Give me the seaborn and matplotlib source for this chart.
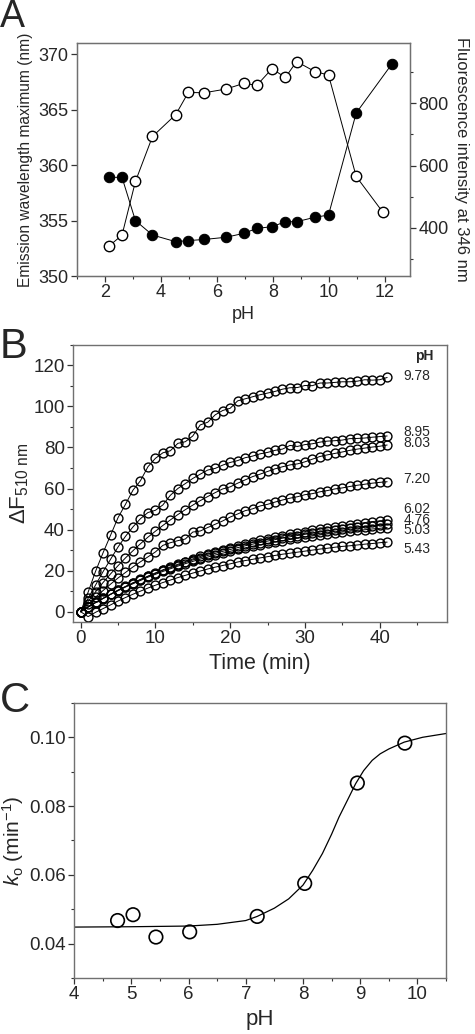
import numpy as np
import pandas as pd
import matplotlib
matplotlib.use('Agg')
import matplotlib.pyplot as plt
import seaborn as sns
from matplotlib.ticker import MultipleLocator, FormatStrFormatter

### three-panel figure: pH dependence of emission / labelling kinetics

# panel A: emission maximum (filled) and intensity (open) vs pH
ph_a      = [2.13, 2.61, 3.09, 3.70, 4.53, 4.98, 5.55, 6.33, 6.96, 7.43, 7.97, 8.45, 8.85, 9.50, 9.99, 10.98]
ph_a_fill = ph_a + [12.25]
ph_a_open = ph_a + [11.92]
em_max    = [358.9, 358.9, 355.0, 353.7, 353.1, 353.2, 353.3, 353.5, 353.85, 354.3, 354.45,
             354.9, 354.9, 355.3, 355.5, 364.7, 369.1]
intensity = [341, 377, 549, 693, 763, 834, 833, 845, 863, 857, 910, 882, 933, 901, 890, 565, 452]

# panel B: fluorescence change vs time, one series per pH
time_min = list(range(42))
df_ph78 = [0, 9.5, 19.7, 28.7, 37.2, 45.8, 52.3, 59.2, 63.8, 70.6, 74.7, 77.4, 78.4, 82.0, 82.8,
           85.6, 91.0, 92.3, 95.9, 98.0, 99.1, 102.7, 103.7, 104.7, 105.7, 106.5, 107.3, 108.4,
           109.1, 109.2, 110.2, 110.1, 111.4, 111.4, 111.7, 112.0, 112.0, 112.3, 113.0, 112.8,
           113.0, 114.1]
df_ph895 = [0, 6.5, 13.0, 19.5, 25.5, 31.5, 36.7, 41.3, 45.3, 48.3, 49.4, 52.0, 56.7, 60.0, 62.4,
            64.9, 67.0, 69.0, 69.8, 71.4, 72.7, 73.6, 75.0, 75.8, 76.9, 77.6, 78.6, 79.2, 81.0,
            80.5, 81.4, 81.8, 82.6, 83.1, 83.3, 83.6, 84.3, 84.4, 84.6, 85.0, 85.3, 85.6]
df_ph803 = [0, 5.0, 9.7, 14.2, 18.4, 22.4, 26.2, 29.7, 33.1, 36.3, 39.2, 42.0, 44.7, 47.3, 49.7,
            51.9, 54.1, 56.1, 58.0, 59.8, 60.8, 62.6, 64.2, 65.8, 67.0, 68.3, 69.6, 70.6, 71.5,
            72.0, 73.0, 74.3, 75.6, 76.4, 77.1, 77.8, 78.6, 79.2, 79.7, 80.2, 80.6, 81.2]
df_ph720 = [0, 3.6, 7.1, 10.3, 13.4, 16.4, 19.1, 21.8, 24.3, 26.7, 29.1, 32.3, 33.6, 34.6, 35.4,
            38.8, 39.3, 41.0, 42.6, 44.2, 46.1, 47.6, 49.2, 50.1, 51.5, 52.3, 53.4, 54.4, 55.3,
            56.0, 57.0, 57.5, 58.4, 59.0, 59.8, 60.3, 61.0, 61.6, 62.1, 62.6, 63.0, 63.3]
df_ph602 = [0, 2.3, 4.5, 6.5, 8.5, 10.5, 12.3, 14.1, 15.7, 17.3, 18.9, 20.4, 21.8, 23.1, 24.4,
            25.7, 26.9, 28.0, 29.1, 30.1, 31.1, 32.1, 33.0, 33.9, 34.7, 35.5, 36.3, 37.0, 37.7,
            38.4, 39.0, 39.7, 40.2, 40.8, 41.4, 41.9, 42.4, 42.9, 43.4, 43.9, 44.2, 44.6]
df_ph476 = [0, 2.3, 4.5, 6.5, 8.5, 10.4, 12.2, 13.9, 15.6, 17.2, 18.6, 20.1, 21.4, 22.7, 24.0,
            25.2, 26.3, 27.4, 28.4, 29.4, 30.3, 31.2, 32.1, 32.9, 33.7, 34.4, 35.1, 35.8, 36.5,
            37.1, 37.7, 38.2, 38.8, 39.3, 39.8, 40.2, 40.7, 41.1, 41.5, 41.9, 42.3, 42.6]
df_ph503 = [0, 2.2, 4.4, 6.4, 8.4, 10.2, 12.0, 13.6, 15.2, 16.8, 18.2, 19.6, 20.9, 22.2, 23.4,
            24.5, 25.6, 26.6, 27.6, 28.5, 29.4, 30.3, 31.1, 31.9, 32.6, 33.3, 34.0, 34.6, 35.2,
            35.8, 36.4, 36.9, 37.4, 37.9, 38.3, 38.8, 39.2, 39.6, 39.9, 40.3, 40.6, 41.0]
df_ph543 = [0, -2.4, -0.3, 1.5, 3.3, 5.2, 6.9, 8.5, 10.0, 11.5, 12.9, 14.2, 15.4, 16.6, 17.7,
            18.8, 19.8, 20.8, 21.7, 22.5, 23.3, 24.2, 24.9, 25.5, 26.2, 26.8, 27.4, 28.0, 28.5,
            29.0, 29.5, 30.0, 30.5, 30.9, 31.4, 31.8, 32.1, 32.5, 32.9, 33.2, 33.6, 33.9]
series_b = {'9.78': df_ph78, '8.95': df_ph895, '8.03': df_ph803, '7.20': df_ph720,
            '6.02': df_ph602, '4.76': df_ph476, '5.03': df_ph503, '5.43': df_ph543}
# curve labels at the right edge; tightly stacked ones share one text block
label_groups = [(['9.78'], 114.6), (['8.95', '8.03'], 85.0), (['7.20'], 64.4),
                (['6.02', '4.76', '5.03'], 44.9), (['5.43'], 30.7)]

# panel C: observed rate constant vs pH, with fitted curve
ph_c     = [4.76, 5.03, 5.43, 6.02, 7.20, 8.03, 8.95, 9.78]
k_obs    = [0.0467, 0.0484, 0.0419, 0.0434, 0.0479, 0.0575, 0.0867, 0.0983]
ph_fit   = [4, 5, 6, 6.5, 7, 7.2, 7.5, 7.75, 8.0, 8.17, 8.34, 8.5, 8.63, 8.78, 8.92, 9.06,
            9.21, 9.35, 9.5, 9.77, 10.09, 10.5]
k_fit    = [0.0448, 0.0449, 0.0451, 0.0456, 0.0467, 0.0479, 0.0503, 0.0530, 0.0570, 0.0613,
            0.0662, 0.0718, 0.0768, 0.0818, 0.0865, 0.0903, 0.0933, 0.0952, 0.0966, 0.0986,
            0.1000, 0.1011]

sns.set_style("ticks")
plt.rcParams['font.family'] = ['Liberation Sans', 'DejaVu Sans']
plt.rcParams['mathtext.fontset'] = 'custom'
plt.rcParams['mathtext.rm'] = 'Liberation Sans'
plt.rcParams['mathtext.it'] = 'Liberation Sans:italic'
spine_col = '#707070'

fig = plt.figure(figsize=(4.75, 10.34), dpi=100)
ax_a = fig.add_axes([0.162, 0.733, 0.701, 0.2253])
ax_b = fig.add_axes([0.154, 0.3985, 0.787, 0.268])
ax_c = fig.add_axes([0.156, 0.0542, 0.783, 0.266])


def style_axes(ax, fs):
    for sp in ax.spines.values():
        sp.set_visible(True)
        sp.set_color(spine_col)
        sp.set_linewidth(1.0)
    ax.tick_params(which='major', direction='out', length=4, width=0.9,
                   color='#333333', labelsize=fs, pad=2)
    ax.tick_params(which='minor', direction='out', length=2.5, width=0.8, color='#333333')
    ax.tick_params(top=False, right=False, which='both')


# ---- panel A
style_axes(ax_a, 13)
sns.lineplot(x=ph_a_fill, y=em_max, ax=ax_a, color='k', lw=0.7, marker='o',
             markersize=7.5, markerfacecolor='k', markeredgecolor='k', sort=False)
ax_a.set_xlim(1, 12.9)
ax_a.set_ylim(350, 371)
ax_a.xaxis.set_major_locator(MultipleLocator(2))
ax_a.xaxis.set_minor_locator(MultipleLocator(1))
ax_a.yaxis.set_major_locator(MultipleLocator(5))
ax_a.set_xlabel('pH', fontsize=13, labelpad=3)
ax_a.set_ylabel('Emission wavelength maximum (nm)', fontsize=11.2, labelpad=4)

ax_a2 = ax_a.twinx()
sns.lineplot(x=ph_a_open, y=intensity, ax=ax_a2, color='k', lw=0.7, marker='o',
             markersize=7.5, markerfacecolor='white', markeredgecolor='k',
             markeredgewidth=1.0, sort=False)
ax_a2.set_ylim(246, 992)
ax_a2.yaxis.set_major_locator(MultipleLocator(200))
ax_a2.yaxis.set_minor_locator(MultipleLocator(100))
for sp in ax_a2.spines.values():
    sp.set_color(spine_col)
ax_a2.tick_params(which='major', direction='out', length=4, width=0.9,
                  color='#333333', labelsize=13, pad=2)
ax_a2.tick_params(which='minor', direction='out', length=2.5, width=0.8, color='#333333')
ax_a2.set_ylabel('Fluorescence intensity at 346 nm', fontsize=12, rotation=270, labelpad=15)

# ---- panel B
style_axes(ax_b, 13.5)
df_b = pd.DataFrame({
    'time': time_min * len(series_b),
    'dF': sum(series_b.values(), []),
    'pH': sum([[k] * len(time_min) for k in series_b], []),
})
sns.lineplot(data=df_b, x='time', y='dF', units='pH', estimator=None, ax=ax_b,
             color='k', lw=0.7, marker='o', markersize=6.4, markerfacecolor='none',
             markeredgecolor='k', markeredgewidth=1.0)
for labs, yv in label_groups:
    ax_b.text(43.2, yv, '\n'.join(labs), fontsize=10, va='center', ha='left',
              linespacing=0.72)
ax_b.text(44.7, 124.5, 'pH', fontsize=10, fontweight='bold', va='center', ha='left')
ax_b.set_xlim(-1, 49)
ax_b.set_ylim(-5, 130)
ax_b.xaxis.set_major_locator(MultipleLocator(10))
ax_b.xaxis.set_minor_locator(MultipleLocator(5))
ax_b.yaxis.set_major_locator(MultipleLocator(20))
ax_b.yaxis.set_minor_locator(MultipleLocator(10))
ax_b.set_xlabel('Time (min)', fontsize=15.5, labelpad=4)
ax_b.set_ylabel(r'$\Delta$F$_{\mathrm{510\ nm}}$', fontsize=16, labelpad=2)

# ---- panel C
style_axes(ax_c, 13.5)
sns.lineplot(x=ph_fit, y=k_fit, ax=ax_c, color='k', lw=0.9)
sns.scatterplot(x=ph_c, y=k_obs, ax=ax_c, marker='o', s=95, facecolor='none',
                edgecolor='k', linewidth=1.2, zorder=3)
ax_c.set_xlim(4, 10.5)
ax_c.set_ylim(0.03, 0.11)
ax_c.xaxis.set_major_locator(MultipleLocator(1))
ax_c.xaxis.set_minor_locator(MultipleLocator(0.5))
ax_c.yaxis.set_major_locator(MultipleLocator(0.02))
ax_c.yaxis.set_minor_locator(MultipleLocator(0.01))
ax_c.yaxis.set_major_formatter(FormatStrFormatter('%.2f'))
ax_c.set_xlabel('pH', fontsize=16, labelpad=4)
ax_c.set_ylabel(r'$k_{\mathrm{o}}$ (min$^{\mathrm{-1}}$)', fontsize=15, labelpad=2)

# panel letters
fig.text(0.0, 1 - 27 / 1034, 'A', fontsize=27, va='baseline', ha='left')
fig.text(0.0, 0.684, 'B', fontsize=30, va='top', ha='left')
fig.text(0.0, 0.341, 'C', fontsize=30, va='top', ha='left')

fig.savefig('out.png', dpi=100)
